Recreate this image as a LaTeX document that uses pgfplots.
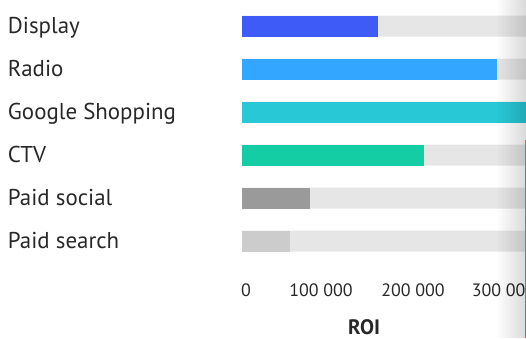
\documentclass[border=0pt]{standalone}
\usepackage{pgfplots}
\pgfplotsset{compat=1.18}
\usepackage{fontspec}
\setmainfont{PT Sans}
\usetikzlibrary{fadings}
\definecolor{cDisplay}{RGB}{63,91,247}
\definecolor{cRadio}{RGB}{51,166,255}
\definecolor{cGoogle}{RGB}{40,200,215}
\definecolor{cCTV}{RGB}{20,205,165}
\definecolor{cSocial}{RGB}{154,154,154}
\definecolor{cSearch}{RGB}{204,204,204}
\definecolor{bggray}{RGB}{230,230,230}
\definecolor{txt}{RGB}{40,40,40}
\tikzfading[name=fadeR, left color=transparent!100, right color=transparent!0]
\begin{document}
\begin{tikzpicture}[x=1bp,y=1bp]
\useasboundingbox (0,0) rectangle (526,338);
\begin{axis}[
  at={(242bp,75.5bp)}, anchor=south west,
  scale only axis, width=284bp, height=258bp,
  xmin=0, xmax=313800, ymin=-0.5, ymax=5.5, y dir=reverse,
  xbar, bar width=21bp, bar shift=0pt,
  axis line style={draw=none}, tick style={draw=none},
  scaled x ticks=false,
  ytick={0,1,2,3,4,5},
  yticklabels={Display,Radio,Google Shopping,CTV,Paid social,Paid search},
  yticklabel style={anchor=base west, xshift=-230bp, yshift=-7bp, inner sep=0pt, text=txt,
    font=\fontsize{23}{27}\selectfont},
  xtick={4420,87290,188940,288940},
  xticklabels={0,100 000,200 000,300 000},
  xticklabel style={anchor=base, yshift=-34bp, inner sep=0pt, text=txt,
    font=\fontsize{18}{22}\selectfont},
  xlabel={ROI},
  xlabel style={at={(axis description cs:0.43,0)}, anchor=base, yshift=-71.5bp,
    inner sep=0pt, text=txt, font=\bfseries\fontsize{21}{25}\selectfont},
]
\addplot[fill=bggray, draw=none] coordinates {(313800,0) (313800,1) (313800,2) (313800,3) (313800,4) (313800,5)};
\addplot[fill=cDisplay, draw=none] coordinates {(150270,0)};
\addplot[fill=cRadio, draw=none] coordinates {(281760,1)};
\addplot[fill=cGoogle, draw=none] coordinates {(330000,2)};
\addplot[fill=cCTV, draw=none] coordinates {(201100,3)};
\addplot[fill=cSocial, draw=none] coordinates {(75130,4)};
\addplot[fill=cSearch, draw=none] coordinates {(53040,5)};
\end{axis}
\fill[black, opacity=0.15, path fading=fadeR] (496,0) rectangle (526,338);
\draw[color={rgb,255:red,200;green,90;blue,110}, line width=1.2] (525.4,0) -- (525.4,198);
\end{tikzpicture}
\end{document}
